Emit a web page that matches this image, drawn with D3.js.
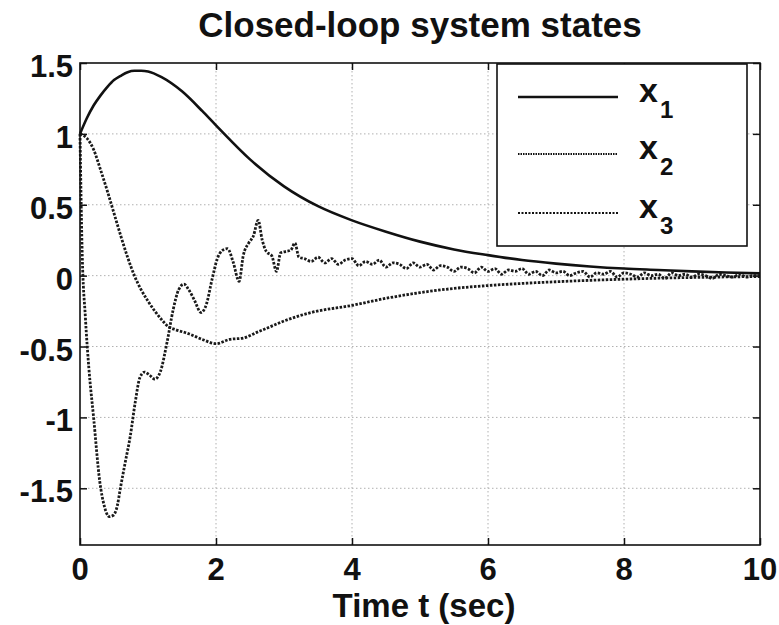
<!DOCTYPE html>
<html>
<head>
<meta charset="utf-8">
<script src="https://cdn.jsdelivr.net/npm/d3@7"></script>
<style>
  body { margin: 0; background: #fff; }
  svg text { font-family: "Liberation Sans", Arial, Helvetica, sans-serif; font-weight: bold; fill: #111; }
</style>
</head>
<body>
<svg id="chart" width="779" height="625"></svg>
<script>
// time / value arrays
var x1T = [0, 0.1, 0.2, 0.3, 0.4, 0.5, 0.6, 0.7, 0.8, 0.9, 1.0, 1.2, 1.5, 1.8, 2.0, 2.5, 3.0, 3.5, 4.0, 4.5, 5.0, 5.5, 6.0, 6.5, 7.0, 7.5, 8.0, 8.5, 9.0, 9.5, 10];
var x1V = [1.0, 1.11, 1.2, 1.27, 1.33, 1.38, 1.41, 1.435, 1.445, 1.445, 1.44, 1.40, 1.30, 1.16, 1.06, 0.82, 0.63, 0.49, 0.39, 0.31, 0.24, 0.185, 0.145, 0.11, 0.085, 0.065, 0.05, 0.04, 0.03, 0.022, 0.016];

var x2T = [0, 0.1, 0.2, 0.3, 0.4, 0.5, 0.6, 0.7, 0.8, 0.9, 1.0, 1.1, 1.2, 1.3, 1.4, 1.6, 1.8, 2.0, 2.2, 2.4, 2.6, 2.8, 3.0, 3.4, 4.0, 4.5, 5.0, 5.5, 6.0, 6.5, 7.0, 7.5, 8.0, 8.5, 9.0, 9.5, 10];
var x2V = [1.0, 0.97, 0.89, 0.75, 0.6, 0.44, 0.28, 0.13, 0.0, -0.1, -0.18, -0.25, -0.31, -0.36, -0.38, -0.41, -0.45, -0.48, -0.45, -0.44, -0.40, -0.36, -0.32, -0.26, -0.21, -0.16, -0.12, -0.09, -0.07, -0.055, -0.043, -0.033, -0.025, -0.018, -0.013, -0.009, -0.006];

var x3T = [0, 0.03, 0.08, 0.13, 0.2, 0.29, 0.36, 0.43, 0.49, 0.55, 0.59, 0.66, 0.74, 0.81, 0.88, 0.95, 1.02, 1.1, 1.18, 1.28, 1.37, 1.45, 1.53, 1.6, 1.68, 1.78, 1.86, 1.94, 2.02, 2.1, 2.17, 2.25, 2.34, 2.4, 2.48, 2.55, 2.62, 2.68, 2.74, 2.82, 2.89, 2.95, 3.02, 3.1, 3.16, 3.22,
  3.3, 3.4, 3.5, 3.6, 3.7, 3.8, 3.9, 4.0, 4.1, 4.2, 4.3, 4.4, 4.5, 4.6, 4.7, 4.8, 4.9, 5.0, 5.1, 5.2, 5.3, 5.4, 5.5, 5.6, 5.7, 5.8, 5.9, 6.0, 6.1, 6.2, 6.3, 6.4, 6.5, 6.6, 6.7, 6.8, 6.9, 7.0, 7.1, 7.2, 7.3, 7.4, 7.5, 7.6, 7.7, 7.8, 7.9, 8.0, 8.1, 8.2, 8.3, 8.4, 8.5, 8.6, 8.7, 8.8, 8.9, 9.0, 9.1, 9.2, 9.3, 9.4, 9.5, 9.6, 9.7, 9.8, 9.9, 10];
var x3V = [1.0, 0.2, -0.3, -0.65, -1.0, -1.45, -1.63, -1.70, -1.69, -1.62, -1.51, -1.33, -1.13, -0.9, -0.72, -0.68, -0.7, -0.73, -0.68, -0.47, -0.24, -0.1, -0.06, -0.1, -0.17, -0.26, -0.2, -0.03, 0.12, 0.18, 0.19, 0.1, -0.04, 0.14, 0.23, 0.28, 0.39, 0.25, 0.17, 0.14, 0.03, 0.16, 0.17, 0.18, 0.23, 0.13,
  0.12, 0.10, 0.13, 0.09, 0.12, 0.08, 0.11, 0.12, 0.07, 0.10, 0.08, 0.11, 0.06, 0.09, 0.08, 0.05, 0.09, 0.06, 0.08, 0.04, 0.07, 0.06, 0.03, 0.06, 0.05, 0.02, 0.06, 0.03, 0.05, 0.01, 0.04, 0.03, 0.05, 0.01, 0.03, 0.0, 0.04, 0.02, 0.03, 0.0, 0.02, 0.03, -0.01, 0.02, 0.01, 0.03, -0.01, 0.02, 0.01, -0.01, 0.02, 0.0, 0.01, -0.02, 0.02, 0.0, 0.01, -0.01, 0.01, 0.0, -0.02, 0.01, 0.0, -0.01, 0.01, -0.01, 0.0, 0.0];

var xTicks = [0, 2, 4, 6, 8, 10];
var yTicks = [1.5, 1, 0.5, 0, -0.5, -1, -1.5];
var seriesNames = ["1", "2", "3"];

var plotL = 80, plotR = 760, plotT = 63, plotB = 545;
var svg = d3.select("#chart");

var x = d3.scaleLinear().domain([0, 10]).range([plotL, plotR]);
var y = d3.scaleLinear().domain([-1.9, 1.5]).range([plotB, plotT]);

// grid
svg.append("g").selectAll("line").data(xTicks.slice(1, -1)).enter().append("line")
    .attr("x1", function (d) { return x(d); }).attr("x2", function (d) { return x(d); })
    .attr("y1", plotT).attr("y2", plotB)
    .attr("stroke", "#b0b0b0").attr("stroke-width", 1).attr("stroke-dasharray", "1.5,2.5");
svg.append("g").selectAll("line").data(yTicks.slice(1)).enter().append("line")
    .attr("y1", function (d) { return y(d); }).attr("y2", function (d) { return y(d); })
    .attr("x1", plotL).attr("x2", plotR)
    .attr("stroke", "#b0b0b0").attr("stroke-width", 1).attr("stroke-dasharray", "1.5,2.5");

// axes with inward ticks on all four sides
var tickLen = 7;
svg.append("g").attr("transform", "translate(0," + plotB + ")")
    .call(d3.axisTop(x).tickValues(xTicks).tickSize(tickLen).tickFormat(""))
    .call(function (g) { g.select(".domain").remove(); });
svg.append("g").attr("transform", "translate(0," + plotT + ")")
    .call(d3.axisBottom(x).tickValues(xTicks).tickSize(tickLen).tickFormat(""))
    .call(function (g) { g.select(".domain").remove(); });
svg.append("g").attr("transform", "translate(" + plotL + ",0)")
    .call(d3.axisRight(y).tickValues(yTicks).tickSize(tickLen).tickFormat(""))
    .call(function (g) { g.select(".domain").remove(); });
svg.append("g").attr("transform", "translate(" + plotR + ",0)")
    .call(d3.axisLeft(y).tickValues(yTicks).tickSize(tickLen).tickFormat(""))
    .call(function (g) { g.select(".domain").remove(); });
svg.selectAll(".tick line").attr("stroke", "#111").attr("stroke-width", 1.5);

// tick labels
svg.append("g").selectAll("text").data(xTicks).enter().append("text")
    .attr("x", function (d) { return x(d); }).attr("y", 580)
    .attr("text-anchor", "middle").attr("font-size", 31)
    .text(function (d) { return d; });
svg.append("g").selectAll("text").data(yTicks).enter().append("text")
    .attr("x", 73).attr("y", function (d) { return y(d) + 14; })
    .attr("text-anchor", "end").attr("font-size", 31)
    .text(function (d) { return d; });

// curves
var lineSmooth = d3.line().curve(d3.curveMonotoneX).x(function (d) { return x(d[0]); }).y(function (d) { return y(d[1]); });

svg.append("path").datum(d3.zip(x2T, x2V)).attr("d", lineSmooth)
    .attr("fill", "none").attr("stroke", "#1a1a1a").attr("stroke-width", 2.8).attr("stroke-dasharray", "2.5,1.5");
svg.append("path").datum(d3.zip(x3T, x3V)).attr("d", lineSmooth)
    .attr("fill", "none").attr("stroke", "#1a1a1a").attr("stroke-width", 2.8).attr("stroke-dasharray", "2.5,1.5");
svg.append("path").datum(d3.zip(x1T, x1V)).attr("d", lineSmooth)
    .attr("fill", "none").attr("stroke", "#111").attr("stroke-width", 2.6);

// box
svg.append("rect").attr("x", plotL).attr("y", plotT).attr("width", plotR - plotL).attr("height", plotB - plotT)
    .attr("fill", "none").attr("stroke", "#111").attr("stroke-width", 1.6);

// legend
var leg = svg.append("g");
leg.append("rect").attr("x", 497).attr("y", 64).attr("width", 250).attr("height", 182)
    .attr("fill", "#fff").attr("stroke", "#111").attr("stroke-width", 1.6);
var legY = [97, 154, 213];
var legDash = [null, "1.5,1", "2,1.5"];
seriesNames.forEach(function (n, i) {
    var l = leg.append("line").attr("x1", 518).attr("x2", 618).attr("y1", legY[i]).attr("y2", legY[i])
        .attr("stroke", "#111").attr("stroke-width", i === 0 ? 2.6 : 2);
    if (legDash[i]) l.attr("stroke-dasharray", legDash[i]);
    leg.append("text").attr("x", 639).attr("y", legY[i] + 5).attr("font-size", 34).text("x");
    leg.append("text").attr("x", 660).attr("y", legY[i] + 21).attr("font-size", 24).text(n);
});

// titles
svg.append("text").attr("x", 420).attr("y", 37).attr("text-anchor", "middle").attr("font-size", 35)
    .text("Closed-loop system states");
svg.append("text").attr("x", 424).attr("y", 617).attr("text-anchor", "middle").attr("font-size", 33)
    .text("Time t (sec)");
</script>
</body>
</html>
